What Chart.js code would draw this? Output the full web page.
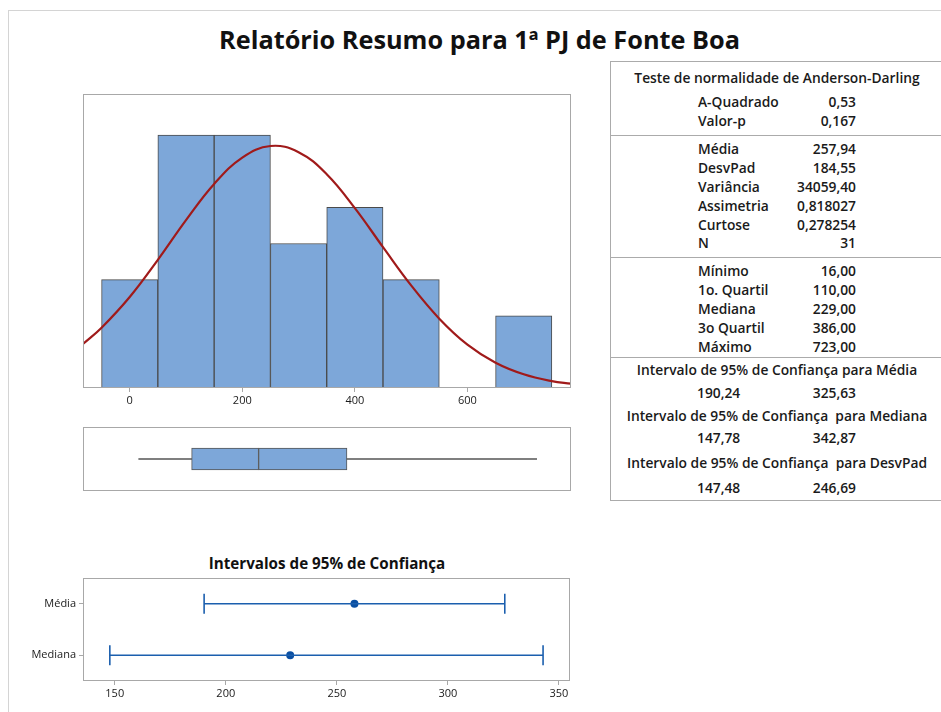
<!DOCTYPE html>
<html>
<head>
<meta charset="utf-8">
<script src="https://cdn.jsdelivr.net/npm/chart.js@4.4.1/dist/chart.umd.min.js"></script>
<style>
  html, body { margin:0; padding:0; background:#fff; }
  body { width:941px; height:712px; position:relative; overflow:hidden; font-family:"Open Sans", "Noto Sans", sans-serif; color:#1a1a1a; }
  .frame { position:absolute; left:8px; top:10px; width:1000px; height:1000px; border-left:1px solid #d4d4d4; border-top:1px solid #d4d4d4; }
  .title { position:absolute; left:0; width:959px; top:22px; line-height:34px; text-align:center; font-size:25.3px; font-weight:700; color:#111; }
  .cititle { position:absolute; left:83px; width:488px; top:553px; line-height:20px; text-align:center; font-size:15.2px; font-weight:700; color:#111; }
  canvas { position:absolute; left:0; }
  #tbl { position:absolute; left:610px; top:61px; width:400px; height:438px; border-left:1px solid #ababab; border-top:1px solid #ababab; border-bottom:1px solid #ababab; }
  .sep { position:absolute; left:610px; width:400px; height:0; border-top:1px solid #ababab; }
  .row { position:absolute; font-size:13.8px; font-weight:600; line-height:18px; white-space:pre; }
  .hdr { left:610px; width:334px; text-align:center; }
  .lab { left:698px; }
  .val { left:756px; width:100px; text-align:right; }
  .civ1 { left:697px; }
</style>
</head>
<body>
<div class="frame"></div>
<div class="title">Relatório Resumo para 1ª PJ de Fonte Boa</div>
<canvas id="hist" width="600" height="340" style="top:80px;width:600px;height:340px"></canvas>
<canvas id="box" width="600" height="80" style="top:420px;width:600px;height:80px"></canvas>
<div class="cititle">Intervalos de 95% de Confiança</div>
<canvas id="ci" width="600" height="167" style="top:545px;width:600px;height:167px"></canvas>
<div id="tbl"></div>
<div id="tblText"></div>
<script>
// ---------------- data ----------------
const mainTitle = "Relatório Resumo para 1ª PJ de Fonte Boa";
const binCenters = [0, 100, 200, 300, 400, 500, 600, 700];
const binCounts  = [3, 7, 7, 4, 5, 3, 0, 2];
const histTicks  = [0, 200, 400, 600];
// fitted normal curve
const curveX = [-83, -50, 0, 50, 100, 150, 200, 250, 300, 350, 400, 450, 500, 550, 600, 650, 700, 750, 784];
const curveY = [1.22, 1.67, 2.52, 3.55, 4.65, 5.65, 6.38, 6.70, 6.53, 5.92, 4.98, 3.90, 2.84, 1.92, 1.20, 0.70, 0.38, 0.19, 0.12];
const boxMin = 16, boxQ1 = 110, boxMedian = 229, boxQ3 = 386, boxMax = 723;
const ciLabels = ["Média", "Mediana"];
const ciLow  = [190.24, 147.78];
const ciHigh = [325.63, 342.87];
const ciEst  = [257.94, 229.00];
const ciTicks = [150, 200, 250, 300, 350];

const adTitle = "Teste de normalidade de Anderson-Darling";
const adLabels = ["A-Quadrado", "Valor-p"];
const adValues = ["0,53", "0,167"];
const momLabels = ["Média", "DesvPad", "Variância", "Assimetria", "Curtose", "N"];
const momValues = ["257,94", "184,55", "34059,40", "0,818027", "0,278254", "31"];
const qLabels = ["Mínimo", "1o. Quartil", "Mediana", "3o Quartil", "Máximo"];
const qValues = ["16,00", "110,00", "229,00", "386,00", "723,00"];
const ciHeaders = ["Intervalo de 95% de Confiança para Média", "Intervalo de 95% de Confiança  para Mediana", "Intervalo de 95% de Confiança  para DesvPad"];
const ciTableLow = ["190,24", "147,78", "147,48"];
const ciTableHigh = ["325,63", "342,87", "246,69"];

// ---------------- table ----------------
(function(){
  const t = document.getElementById('tblText');
  function add(cls, text, cy){
    const d = document.createElement('div');
    d.className = 'row ' + cls;
    d.textContent = text;
    d.style.top = (cy - 9) + 'px';
    t.appendChild(d);
  }
  [135, 257, 357].forEach(y => { const s = document.createElement('div'); s.className='sep'; s.style.top = y+'px'; t.appendChild(s); });
  add('hdr', adTitle, 78);
  const rowsA = [102, 121];
  adLabels.forEach((l,i)=>{ add('lab', l, rowsA[i]); add('val', adValues[i], rowsA[i]); });
  const rowsM = [149, 168, 187, 206, 225, 243];
  momLabels.forEach((l,i)=>{ add('lab', l, rowsM[i]); add('val', momValues[i], rowsM[i]); });
  const rowsQ = [271, 290, 309, 328, 347];
  qLabels.forEach((l,i)=>{ add('lab', l, rowsQ[i]); add('val', qValues[i], rowsQ[i]); });
  const hY = [370, 416, 463], vY = [393, 438, 488];
  ciHeaders.forEach((h,i)=>{ add('hdr', h, hY[i]); add('civ1', ciTableLow[i], vY[i]); add('val', ciTableHigh[i], vY[i]); });
})();

// ---------------- charts ----------------
Chart.defaults.font.family = '"Open Sans", "Noto Sans", sans-serif';
Chart.defaults.font.size = 11;
Chart.defaults.color = '#222';
Chart.defaults.animation = false;

const framePlugin = {
  id: 'frame',
  afterDraw(chart) {
    const a = chart.chartArea, c = chart.ctx;
    c.save();
    c.strokeStyle = '#a8a8a8';
    c.lineWidth = 1;
    c.strokeRect(Math.round(a.left)+0.5, Math.round(a.top)+0.5, Math.round(a.right-a.left)-1, Math.round(a.bottom-a.top)-1);
    c.restore();
  }
};

const X_MIN = -83, X_MAX = 784;

new Chart(document.getElementById('hist'), {
  type: 'bar',
  data: {
    datasets: [
      {
        type: 'line',
        data: curveX.map((x,i)=>({x:x, y:curveY[i]})),
        borderColor: '#a01a1a',
        borderWidth: 2.2,
        pointRadius: 0,
        tension: 0.4,
        order: 0
      },
      {
        type: 'bar',
        data: binCenters.map((x,i)=>({x:x, y:binCounts[i]})),
        backgroundColor: '#7da7d9',
        borderColor: '#4a4a4a',
        borderWidth: 1,
        borderSkipped: false,
        barPercentage: 1,
        categoryPercentage: 1,
        order: 1
      }
    ]
  },
  options: {
    responsive: false,
    layout: { padding: { left: 83, right: 29, top: 14, bottom: 0 } },
    plugins: { legend: { display: false }, tooltip: { enabled: false } },
    scales: {
      x: {
        type: 'linear', min: X_MIN, max: X_MAX, offset: false,
        grid: { display: true, drawOnChartArea: false, tickLength: 4, color: '#a8a8a8', offset: false },
        border: { display: false },
        ticks: { padding: 2, font: { size: 11 }, color: '#1a1a1a', callback: v => v },
        afterBuildTicks: s => { s.ticks = histTicks.map(v => ({ value: v })); },
        afterFit: s => { s.height = 32; }
      },
      y: { display: false, min: 0, max: 8.14 }
    }
  },
  plugins: [framePlugin]
});

new Chart(document.getElementById('box'), {
  type: 'bar',
  data: {
    labels: ['box'],
    datasets: [
      { data: [[boxMin, boxQ1]], backgroundColor: '#555', borderWidth: 0, barThickness: 1, grouped: false },
      { data: [[boxQ3, boxMax]], backgroundColor: '#555', borderWidth: 0, barThickness: 1, grouped: false },
      { data: [[boxQ1, boxMedian]], backgroundColor: '#7da7d9', borderColor: '#555', borderWidth: 1, borderSkipped: false, barThickness: 22, grouped: false },
      { data: [[boxMedian, boxQ3]], backgroundColor: '#7da7d9', borderColor: '#555', borderWidth: 1, borderSkipped: false, barThickness: 22, grouped: false }
    ]
  },
  options: {
    indexAxis: 'y',
    responsive: false,
    layout: { padding: { left: 83, right: 29, top: 7, bottom: 9 } },
    plugins: { legend: { display: false }, tooltip: { enabled: false } },
    scales: {
      x: { type: 'linear', min: X_MIN, max: X_MAX, display: false },
      y: { display: false }
    }
  },
  plugins: [framePlugin]
});

const ciColor = '#1b5fae';
const ciDatasets = [];
ciLabels.forEach((lab, i) => {
  ciDatasets.push({
    type: 'line',
    data: [{x: ciLow[i], y: i + 0.5}, {x: ciHigh[i], y: i + 0.5}],
    borderColor: ciColor, borderWidth: 1.3,
    pointStyle: 'line', rotation: 90, pointRadius: 10, pointBorderWidth: 1.6,
    pointBorderColor: ciColor, pointBackgroundColor: ciColor
  });
  ciDatasets.push({
    type: 'line', showLine: false,
    data: [{x: ciEst[i], y: i + 0.5}],
    pointStyle: 'circle', pointRadius: 4, pointBorderWidth: 0,
    pointBackgroundColor: '#0a4fa3', borderColor: '#0a4fa3'
  });
});

new Chart(document.getElementById('ci'), {
  type: 'scatter',
  data: { datasets: ciDatasets },
  options: {
    responsive: false,
    layout: { padding: { left: 0, right: 30, top: 33, bottom: 0 } },
    plugins: { legend: { display: false }, tooltip: { enabled: false } },
    scales: {
      x: {
        type: 'linear', min: 135.7, max: 355,
        grid: { display: true, drawOnChartArea: false, tickLength: 4, color: '#a8a8a8' },
        border: { display: false },
        ticks: { padding: 2, font: { size: 11 }, color: '#1a1a1a' },
        afterBuildTicks: s => { s.ticks = ciTicks.map(v => ({ value: v })); },
        afterFit: s => { s.height = 31; }
      },
      y: {
        type: 'linear', min: 0, max: 2, reverse: true,
        grid: { display: true, drawOnChartArea: false, tickLength: 4, color: '#a8a8a8' },
        border: { display: false },
        ticks: { padding: 3, font: { size: 11 }, color: '#1a1a1a', callback: v => ciLabels[Math.round(v - 0.5)] },
        afterBuildTicks: s => { s.ticks = ciLabels.map((l, i) => ({ value: i + 0.5 })); },
        afterFit: s => { s.width = 83; }
      }
    }
  },
  plugins: [framePlugin]
});
</script>
</body>
</html>
